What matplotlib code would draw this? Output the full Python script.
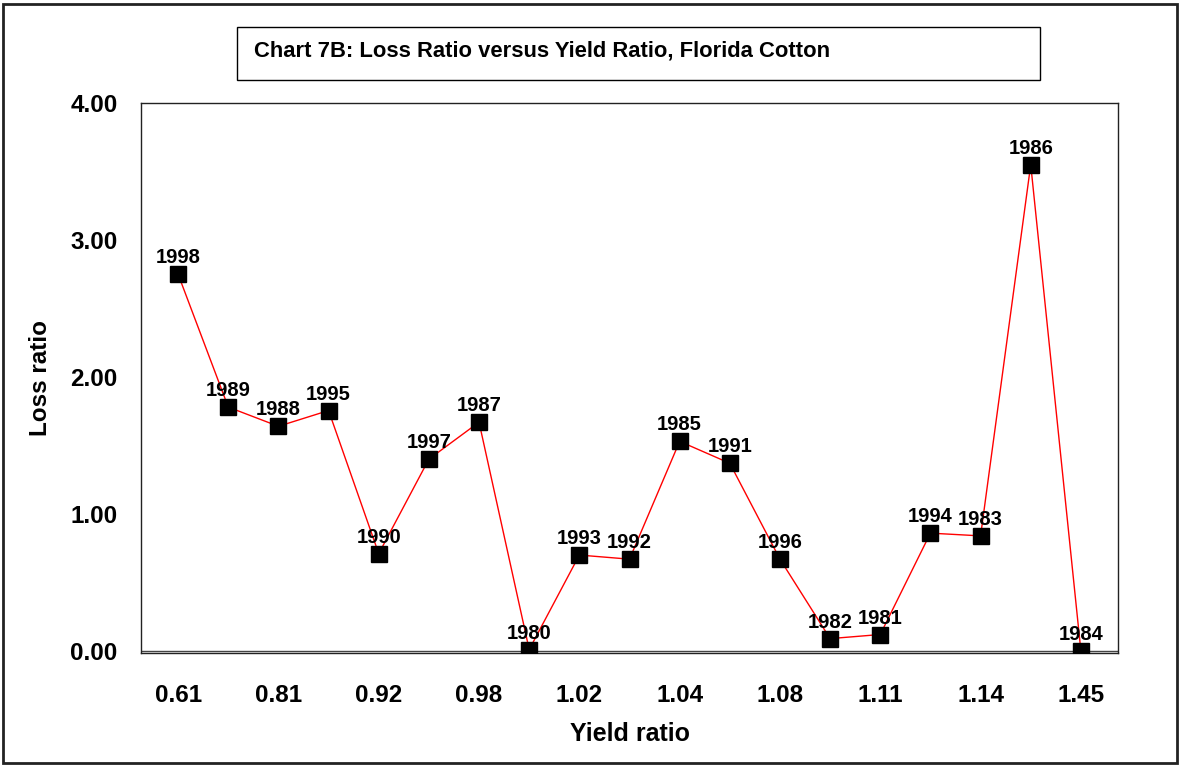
import matplotlib
matplotlib.use("Agg")
import matplotlib.pyplot as plt
from matplotlib.patches import Rectangle

plt.rcParams['font.family'] = ['Liberation Sans', 'DejaVu Sans']

years = ["1998", "1989", "1988", "1995", "1990", "1997", "1987", "1980", "1993", "1992",
         "1985", "1991", "1996", "1982", "1981", "1994", "1983", "1986", "1984"]
loss_ratio = [2.75, 1.78, 1.64, 1.755, 0.71, 1.40, 1.67, 0.01, 0.70, 0.67,
              1.53, 1.37, 0.67, 0.09, 0.12, 0.86, 0.84, 3.55, 0.0]
tick_labels = ["0.61", "0.81", "0.92", "0.98", "1.02", "1.04", "1.08", "1.11", "1.14", "1.45"]
y_ticks = [0, 1, 2, 3, 4]

W, H = 1180, 766
fig = plt.figure(figsize=(W / 100, H / 100), dpi=100)

# outer border
fig.patches.append(Rectangle((3 / W, 1 - 763 / H), 1174 / W, 759 / H, transform=fig.transFigure,
                             fill=False, edgecolor='#222222', linewidth=2))
# title box
fig.patches.append(Rectangle((237 / W, 1 - 80 / H), (1040 - 237) / W, 53 / H, transform=fig.transFigure,
                             fill=False, edgecolor='black', linewidth=1))
fig.text(254 / W, 1 - 51 / H, "Chart 7B: Loss Ratio versus Yield Ratio, Florida Cotton",
         fontsize=15.8, fontweight='bold', ha='left', va='center')

ax = fig.add_axes([141 / W, 1 - 653 / H, (1118 - 141) / W, (653 - 103) / H])
x = list(range(len(years)))
ax.plot(x, loss_ratio, color='red', linewidth=1, marker='s', markersize=11,
        markerfacecolor='black', markeredgecolor='black', zorder=3)
for xi, yi, lab in zip(x, loss_ratio, years):
    ax.annotate(lab, (xi, yi), xytext=(0, 5), textcoords='offset points',
                ha='center', va='bottom', fontsize=14.5, fontweight='bold', zorder=4)

ax.set_xlim(-0.74, 18.74)
ax.set_ylim(-0.015, 4.0)
ax.set_xticks(x[::2])
ax.set_xticklabels(tick_labels, fontsize=17.5, fontweight='bold')
ax.set_yticks(y_ticks)
ax.set_yticklabels([f"{v:.2f}" for v in y_ticks], fontsize=17.5, fontweight='bold')
ax.tick_params(axis='both', length=0)
ax.tick_params(axis='x', pad=22)
ax.tick_params(axis='y', pad=17)
ax.axhline(0, color='#444444', linewidth=1, zorder=1)
for s in ax.spines.values():
    s.set_linewidth(1)
    s.set_color('#222222')
ax.set_xlabel("Yield ratio", fontsize=18, fontweight='bold', labelpad=11)
ax.set_ylabel("Loss ratio", fontsize=17.5, fontweight='bold', labelpad=13)

fig.savefig("out.png", dpi=100)
